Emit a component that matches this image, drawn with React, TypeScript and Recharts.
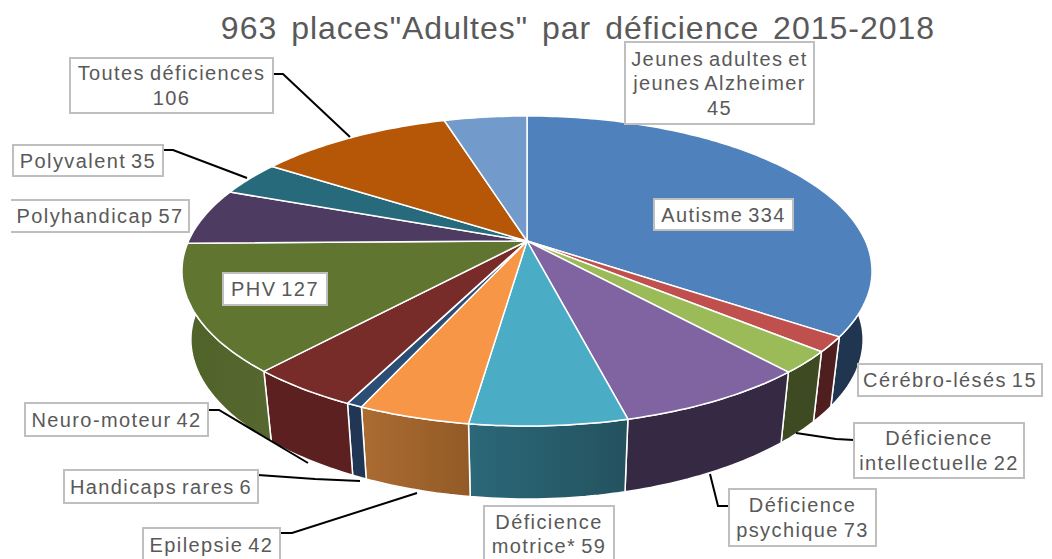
import { Pie, PieChart } from "recharts";

const categories = [
  "Autisme",
  "Cérébro-lésés",
  "Déficience intellectuelle",
  "Déficience psychique",
  "Déficience motrice*",
  "Epilepsie",
  "Handicaps rares",
  "Neuro-moteur",
  "PHV",
  "Polyhandicap",
  "Polyvalent",
  "Toutes déficiences",
  "Jeunes adultes et jeunes Alzheimer",
];
const places = [334, 15, 22, 73, 59, 42, 6, 42, 127, 57, 35, 106, 45];
const topColors = [
  "#4f81bd", "#c0504d", "#9bbb59", "#8064a2", "#4bacc6", "#f79646", "#2c4d75",
  "#772c2a", "#5f7530", "#4d3b62", "#276a7c", "#b65708", "#729aca",
];
const wallColors = [
  ["#1f3550", "#1f3550"], ["#4f1f1f", "#4f1f1f"], ["#3e4a22", "#3e4a22"],
  ["#362943", "#362943"], ["#2b6878", "#24525f"], ["#ab6c31", "#935a27"],
  ["#203654", "#203654"], ["#5c2020", "#5c2020"], ["#4f6228", "#56682f"],
  ["#352944", "#352944"], ["#1b4a56", "#1b4a56"], ["#7f3d06", "#7f3d06"],
  ["#4f6b8d", "#4f6b8d"],
];
const labelLines = [
  ["Autisme 334"],
  ["Cérébro-lésés 15"],
  ["Déficience", "intellectuelle 22"],
  ["Déficience", "psychique 73"],
  ["Déficience", "motrice* 59"],
  ["Epilepsie 42"],
  ["Handicaps rares 6"],
  ["Neuro-moteur 42"],
  ["PHV 127"],
  ["Polyhandicap 57"],
  ["Polyvalent 35"],
  ["Toutes déficiences", "106"],
  ["Jeunes adultes et", "jeunes Alzheimer", "45"],
];

const pieData = categories.map((name, i) => ({ name, value: places[i] }));

// Label boxes sit where they were dragged in the original, so they are layout, not data
const boxes = [
  { x: 654, y: 199, w: 139, h: 31 },
  { x: 858, y: 364, w: 184, h: 32 },
  { x: 854, y: 423, w: 170, h: 55 },
  { x: 729, y: 489, w: 147, h: 57 },
  { x: 484, y: 506, w: 130, h: 56 },
  { x: 143, y: 528, w: 137, h: 34 },
  { x: 64, y: 470, w: 194, h: 33 },
  { x: 25, y: 403, w: 183, h: 33 },
  { x: 223, y: 273, w: 104, h: 32 },
  { x: 11, y: 200, w: 178, h: 32 },
  { x: 13, y: 145, w: 150, h: 31 },
  { x: 70, y: 58, w: 203, h: 55 },
  { x: 625, y: 42, w: 189, h: 82 },
];
const leaders: (string | null)[] = [
  null,
  null,
  "854,440 836,439 796,433",
  "729,506 718,506 710,474",
  null,
  "280,533 292,533 417,493",
  "258,475 315,479 360,481",
  "208,410 219,410 308,463",
  null,
  null,
  "163,150 173,150 247,178",
  "273,74 283,74 350,137",
  null,
];

// Fake 3D: project the circle with perspective, the far side shrinks
const TOP = { a: 338.5, b: 149.2, kx: 0.1935, ky: 0.1935, dy: 0 };
const BOTTOM = { a: 330, b: 147, kx: 0.19, ky: 0.22, dy: 69.5 };

type Plane = typeof TOP;

function project(cx: number, cy: number, angle: number, p: Plane) {
  const t = ((90 - angle) * Math.PI) / 180;
  const u = Math.sin(t);
  const v = Math.cos(t);
  return [cx + (p.a * u) / (1 + p.kx * v), cy + p.dy - (p.b * v) / (1 + p.ky * v)];
}

function arc(cx: number, cy: number, from: number, to: number, p: Plane) {
  const steps = Math.max(2, Math.ceil(Math.abs(to - from)));
  const pts: string[] = [];
  for (let i = 0; i <= steps; i++) {
    const [x, y] = project(cx, cy, from + ((to - from) * i) / steps, p);
    pts.push(`${x.toFixed(1)},${y.toFixed(1)}`);
  }
  return pts;
}

function TopSlice(props: any) {
  const { cx, cy, startAngle, endAngle, index } = props;
  const pts = [`${cx},${cy}`, ...arc(cx, cy, startAngle, endAngle, TOP)];
  return <polygon points={pts.join(" ")} fill={topColors[index]} stroke="#ffffff" strokeWidth={1.5} strokeLinejoin="round" />;
}

function WallSlice(props: any) {
  const { cx, cy, startAngle, endAngle, index } = props;
  const pts = [
    ...arc(cx, cy, startAngle, endAngle, TOP),
    ...arc(cx, cy, endAngle, startAngle, BOTTOM),
  ];
  const id = `wall-${index}`;
  return (
    <g>
      <defs>
        <linearGradient id={id}>
          <stop offset="0%" stopColor={wallColors[index][0]} />
          <stop offset="100%" stopColor={wallColors[index][1]} />
        </linearGradient>
      </defs>
      <polygon points={pts.join(" ")} fill={`url(#${id})`} stroke="#ffffff" strokeWidth={1.5} strokeLinejoin="round" />
    </g>
  );
}

function SliceLabel(props: any) {
  const { index } = props;
  const box = boxes[index];
  const lines = labelLines[index];
  const lineH = 24.5;
  const startY = box.y + box.h / 2 - ((lines.length - 1) * lineH) / 2;
  const leader = leaders[index];
  return (
    <g>
      {leader && <polyline points={leader} fill="none" stroke="#000000" strokeWidth={2} />}
      {index === 9 ? (
        <>
          <rect x={box.x} y={box.y} width={box.w} height={box.h} fill="#ffffff" />
          <path d={`M${box.x} ${box.y}H${box.x + box.w}V${box.y + box.h}H${box.x}`} fill="none" stroke="#bfbfbf" strokeWidth={2} />
        </>
      ) : (
        <rect x={box.x} y={box.y} width={box.w} height={box.h} fill="#ffffff" stroke="#bfbfbf" strokeWidth={2} />
      )}
      {lines.map((line, i) => (
        <text
          key={line}
          x={box.x + box.w / 2}
          y={startY + i * lineH}
          textAnchor="middle"
          dominantBaseline="central"
          fontFamily="Liberation Sans"
          fontSize={20}
          letterSpacing={1.4}
          wordSpacing={-2}
          fill="#595959"
        >
          {line}
        </text>
      ))}
    </g>
  );
}

export default function App() {
  return (
    <div style={{ position: "absolute", left: 0, top: 0, width: 1052, height: 559, background: "#ffffff" }}>
      <PieChart width={1052} height={559} margin={{ top: 0, right: 0, bottom: 0, left: 0 }}>
        <Pie
          data={pieData}
          dataKey="value"
          nameKey="name"
          cx={527}
          cy={241}
          outerRadius={150}
          startAngle={90}
          endAngle={-270}
          shape={WallSlice}
          isAnimationActive={false}
          labelLine={false}
          label={false}
        />
        <Pie
          data={pieData}
          dataKey="value"
          nameKey="name"
          cx={527}
          cy={241}
          outerRadius={150}
          startAngle={90}
          endAngle={-270}
          shape={TopSlice}
          isAnimationActive={false}
          labelLine={false}
          label={SliceLabel}
        />
        <text x={578} y={39} textAnchor="middle" fontFamily="Liberation Sans" fontSize={32} letterSpacing={1} wordSpacing={4} fill="#595959">
          963 places"Adultes" par déficience 2015-2018
        </text>
      </PieChart>
    </div>
  );
}
